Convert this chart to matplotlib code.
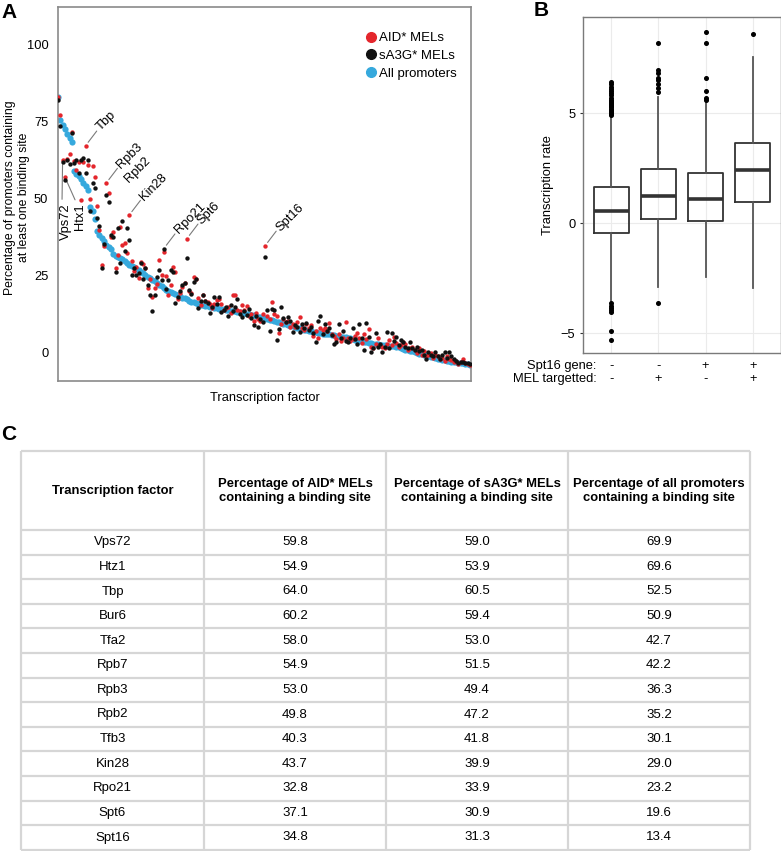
import matplotlib.pyplot as plt
from matplotlib.lines import Line2D
from matplotlib.transforms import blended_transform_factory

plt.rcParams['font.family'] = ['Liberation Sans', 'DejaVu Sans']

# ---- panel A: share of promoters with a binding site, per TF (sorted)
all_promoters = [
    83.0, 75.5, 74.0, 72.8, 71.0, 69.8, 68.5, 59.0, 58.0, 57.3,
    56.4, 55.3, 54.2, 53.0, 47.5, 46.0, 43.5, 39.5, 38.3, 37.2,
    36.2, 35.2, 34.5, 33.7, 32.0, 31.6, 31.2, 30.8, 30.4, 29.8,
    29.2, 28.6, 28.2, 27.8, 27.3, 26.8, 26.3, 25.8, 25.2, 24.7,
    24.2, 23.8, 23.3, 22.7, 22.1, 21.6, 21.2, 20.6, 20.2, 19.8,
    19.4, 19.0, 18.7, 18.4, 18.0, 17.7, 17.4, 17.0, 16.7, 16.4,
    16.2, 16.0, 15.7, 15.5, 15.3, 15.1, 15.0, 14.8, 14.7, 14.6,
    14.4, 14.3, 14.2, 14.0, 13.9, 13.7, 13.6, 13.5, 13.3, 13.2,
    13.0, 12.9, 12.7, 12.5, 12.4, 12.2, 12.0, 11.8, 11.6, 11.4,
    11.2, 11.0, 10.8, 10.6, 10.4, 10.2, 9.9, 9.7, 9.5, 9.3,
    9.1, 8.9, 8.6, 8.4, 8.2, 8.0, 7.8, 7.6, 7.4, 7.2,
    7.1, 6.9, 6.8, 6.6, 6.5, 6.3, 6.2, 6.1, 6.0, 5.8,
    5.7, 5.6, 5.4, 5.3, 5.2, 5.1, 4.9, 4.7, 4.5, 4.3,
    4.1, 4.0, 3.8, 3.6, 3.5, 3.3, 3.2, 3.0, 2.9, 2.8,
    2.7, 2.6, 2.5, 2.4, 2.3, 2.2, 2.1, 2.0, 1.9, 1.6,
    1.3, 1.1, 0.9, 0.7, 0.5, 0.3, 0.0, -0.2, -0.4, -0.6,
    -0.8, -1.0, -1.2, -1.4, -1.6, -1.8, -2.0, -2.2, -2.3, -2.5,
    -2.6, -2.8, -2.9, -3.0, -3.1, -3.2, -3.4, -3.5, -3.6, -3.8,
]
aid_mels = [
    83.0, 77.3, 62.5, 57.1, 63.0, 64.5, 71.8, 62.3, 59.4, 62.0,
    49.7, 62.0, 67.3, 61.0, 50.0, 60.7, 57.1, 47.7, 39.9, 28.6,
    34.7, 55.2, 52.0, 37.5, 39.3, 27.6, 31.8, 40.9, 35.1, 35.7,
    32.5, 44.8, 30.0, 26.5, 28.0, 24.4, 29.5, 29.0, 27.5, 21.0,
    24.0, 18.2, 21.0, 22.5, 30.2, 25.3, 32.8, 25.0, 18.8, 22.0,
    28.0, 26.3, 17.5, 19.5, 21.4, 22.7, 37.1, 20.0, 19.5, 24.7,
    24.0, 18.0, 15.5, 18.8, 17.0, 16.5, 15.8, 14.5, 16.0, 17.2,
    17.5, 16.0, 13.8, 14.6, 15.0, 13.0, 18.8, 18.8, 14.0, 13.5,
    15.6, 14.0, 15.3, 12.0, 12.5, 10.4, 13.0, 11.0, 10.5, 12.5,
    34.8, 12.0, 11.0, 16.6, 12.5, 12.0, 6.5, 9.5, 11.0, 10.0,
    10.5, 8.5, 9.4, 8.5, 10.0, 11.7, 8.0, 7.5, 9.4, 8.0,
    9.0, 5.5, 7.0, 4.9, 8.0, 7.5, 8.1, 7.0, 9.7, 6.0,
    5.5, 4.5, 6.0, 3.9, 5.0, 10.1, 5.0, 4.0, 4.5, 5.5,
    6.5, 5.0, 3.2, 6.0, 4.5, 7.8, 2.0, 1.6, 3.0, 4.9,
    2.6, 2.0, 1.5, 3.0, 4.2, 2.5, 5.2, 3.2, 2.0, 2.5,
    3.6, 3.0, 1.0, 1.5, 2.0, 1.0, 0.0, 1.5, -0.5, 0.5,
    -1.0, -0.5, 0.0, -1.5, -0.5, -1.0, -2.0, -1.5, -2.5, -1.0,
    -2.0, -2.2, -3.0, -2.5, -3.5, -3.0, -1.9, -3.2, -3.5, -3.8,
]
sa3g_mels = [
    82.1, 73.7, 62.0, 56.2, 62.5, 61.5, 71.4, 61.8, 62.5, 58.4,
    62.5, 63.3, 58.4, 62.5, 46.1, 55.2, 53.6, 43.8, 41.2, 27.6,
    35.4, 51.3, 49.0, 38.3, 37.7, 26.3, 40.6, 29.2, 42.9, 33.1,
    40.6, 36.7, 25.3, 27.5, 25.3, 26.0, 29.2, 24.0, 27.5, 22.0,
    18.8, 13.6, 18.8, 24.5, 27.0, 23.7, 33.9, 20.8, 23.7, 27.0,
    26.3, 16.2, 18.2, 20.1, 22.0, 22.7, 30.9, 20.5, 19.0, 23.0,
    24.0, 14.6, 17.0, 18.8, 16.9, 16.2, 13.0, 14.8, 18.2, 16.0,
    18.2, 13.3, 14.0, 15.0, 12.0, 15.6, 13.5, 15.0, 17.5, 12.5,
    11.7, 13.5, 12.3, 14.3, 11.5, 9.0, 12.0, 8.4, 11.0, 10.0,
    31.3, 14.0, 7.1, 14.3, 14.0, 4.2, 7.8, 14.9, 11.4, 10.0,
    11.7, 10.5, 6.8, 9.0, 8.5, 6.8, 9.5, 8.0, 9.7, 7.5,
    8.5, 6.5, 3.6, 10.4, 12.0, 6.0, 9.4, 7.0, 8.0, 5.8,
    2.9, 3.5, 9.4, 5.0, 7.1, 4.0, 3.6, 5.0, 8.1, 4.5,
    3.0, 9.4, 5.0, 1.0, 9.7, 5.2, 0.3, 1.5, 6.5, 1.9,
    3.0, 0.3, 2.0, 6.8, 1.6, 6.5, 4.0, 5.2, 2.5, 4.2,
    3.5, 2.0, 1.5, 3.6, 1.6, 1.0, 1.9, 0.5, 1.0, -0.6,
    -1.9, 0.3, -0.5, -1.0, 0.3, -1.0, -1.9, -0.8, 0.3, -1.5,
    0.3, -1.0, -1.9, -2.5, -3.2, -2.8, -3.0, -3.3, -3.2, -3.6,
]

# labelled TFs: name, index on x, which series the label points to
label_names = ['Tbp', 'Rpb3', 'Kin28', 'Rpo21', 'Spt6', 'Spt16']
label_index = [12, 21, 31, 46, 56, 90]
label_series = ['aid', 'aid', 'aid', 'sa3g', 'aid', 'aid']
vert_names = ['Vps72', 'Htx1']
vert_index = [2, 3]

# ---- panel B: transcription rate boxplots
spt16_gene = ['-', '-', '+', '+']
mel_targetted = ['-', '+', '-', '+']
box_q1 = [-0.44, 0.17, 0.11, 0.98]
box_med = [0.53, 1.24, 1.09, 2.41]
box_q3 = [1.62, 2.44, 2.27, 3.62]
whisk_lo = [-3.58, -2.92, -2.44, -2.97]
whisk_hi = [4.8, 5.74, 5.44, 7.53]
outliers = [
    [4.9, 4.95, 5.0, 5.05, 5.1, 5.15, 5.2, 5.25, 5.3, 5.35, 5.4, 5.45, 5.5,
     5.55, 5.6, 5.7, 5.8, 5.9, 6.0, 6.1, 6.2, 6.3, 6.4,
     -3.65, -3.75, -3.85, -3.95, -4.05, -4.9, -5.3],
    [5.97, 6.13, 6.3, 6.5, 6.6, 6.8, 6.95, 8.16, -3.65],
    [5.6, 5.7, 6.0, 6.6, 8.2, 8.67],
    [8.58],
]

# ---- panel C: table
col_headers = ['Transcription factor',
               'Percentage of AID* MELs\ncontaining a binding site',
               'Percentage of sA3G* MELs\ncontaining a binding site',
               'Percentage of all promoters\ncontaining a binding site']
tf_names = ['Vps72', 'Htz1', 'Tbp', 'Bur6', 'Tfa2', 'Rpb7', 'Rpb3', 'Rpb2',
            'Tfb3', 'Kin28', 'Rpo21', 'Spt6', 'Spt16']
pct_aid = [59.8, 54.9, 64.0, 60.2, 58.0, 54.9, 53.0, 49.8, 40.3, 43.7, 32.8, 37.1, 34.8]
pct_sa3g = [59.0, 53.9, 60.5, 59.4, 53.0, 51.5, 49.4, 47.2, 41.8, 39.9, 33.9, 30.9, 31.3]
pct_all = [69.9, 69.6, 52.5, 50.9, 42.7, 42.2, 36.3, 35.2, 30.1, 29.0, 23.2, 19.6, 13.4]

RED = '#e4262c'
BLACK = '#111111'
BLUE = '#36a9dd'
W, H = 781, 851
FS = 9.3


def px_box(left, top, right, bottom):
    return [left / W, 1 - bottom / H, (right - left) / W, (bottom - top) / H]


fig = plt.figure(figsize=(W / 100, H / 100), dpi=100)

# ================= A
axA = fig.add_axes(px_box(58, 7, 471, 381))
xs = list(range(len(all_promoters)))
axA.scatter(xs, all_promoters, s=20, color=BLUE, lw=0, zorder=2)
axA.scatter(xs, aid_mels, s=10, color=RED, lw=0, zorder=3)
axA.scatter(xs, sa3g_mels, s=10, color=BLACK, lw=0, zorder=4)
axA.set_xlim(0, len(xs) - 0.5)
axA.set_ylim(-9.1, 112.3)
axA.set_xticks([])
axA.set_yticks([0, 25, 50, 75, 100])
axA.tick_params(length=0, pad=7, labelsize=FS)
for sp in axA.spines.values():
    sp.set_color('#8a8a8a')
    sp.set_linewidth(1.2)
axA.set_ylabel('Percentage of promoters containing\nat least one binding site',
               fontsize=8.8, linespacing=1.25)
axA.yaxis.set_label_coords(-0.068, 0.49)
axA.set_xlabel('Transcription factor', fontsize=FS, labelpad=8)

handles = [Line2D([], [], marker='o', ls='', color=c, markersize=7)
           for c in (RED, BLACK, BLUE)]
axA.legend(handles, ['AID* MELs', 'sA3G* MELs', 'All promoters'],
           loc='upper left', bbox_to_anchor=(0.748, 0.933), frameon=False,
           fontsize=9.5, handlelength=0.6, handletextpad=0.3,
           labelspacing=0.42, borderpad=0, borderaxespad=0)

series = {'aid': aid_mels, 'sa3g': sa3g_mels}
line_kw = dict(arrowstyle='-', color='#7a7a7a', lw=0.8, shrinkA=0, shrinkB=3)
for name, i, s in zip(label_names, label_index, label_series):
    y = series[s][i]
    axA.annotate('', xy=(i, y), xytext=(8, 10.5), textcoords='offset points',
                 arrowprops=line_kw)
    axA.annotate(name, xy=(i, y), xytext=(9.2, 11.8), textcoords='offset points',
                 rotation=45, rotation_mode='anchor', ha='left', va='center',
                 fontsize=FS)
# Rpb2 sits under Rpb3, no leader of its own
axA.annotate('Rpb2', xy=(label_index[1], aid_mels[label_index[1]]),
             xytext=(14.5, 1.5), textcoords='offset points', rotation=45,
             rotation_mode='anchor', ha='left', va='center', fontsize=FS)
# Vps72 / Htx1 run vertically
vert_line = [(-0.4, -28.0), (7.3, -16.4)]
vert_text = [(2.4, -30.6), (10.9, -18.6)]
for name, i, lend, toff in zip(vert_names, vert_index, vert_line, vert_text):
    y = aid_mels[i]
    axA.annotate('', xy=(i, y), xytext=lend, textcoords='offset points',
                 arrowprops=line_kw)
    axA.annotate(name, xy=(i, y), xytext=toff, textcoords='offset points',
                 rotation=90, rotation_mode='anchor', ha='right', va='center',
                 fontsize=FS)

# ================= B
axB = fig.add_axes(px_box(583, 17, 781, 353))
stats = []
for k in range(4):
    stats.append(dict(q1=box_q1[k], med=box_med[k], q3=box_q3[k],
                      whislo=whisk_lo[k], whishi=whisk_hi[k], fliers=outliers[k]))
dark = '#333333'
axB.bxp(stats, positions=[1, 2, 3, 4], widths=0.74, showcaps=False,
        boxprops=dict(color=dark, lw=1.3),
        medianprops=dict(color=dark, lw=2.6, solid_capstyle='butt'),
        whiskerprops=dict(color='#555555', lw=1.3),
        flierprops=dict(marker='o', markerfacecolor='black',
                        markeredgecolor='black', markersize=2.6))
axB.set_xlim(0.4, 4.6)
axB.set_ylim(-5.9, 9.36)
axB.set_yticks([-5, 0, 5])
axB.set_xticks([1, 2, 3, 4])
axB.set_xticklabels([])
axB.grid(True, color='#ebebeb', lw=0.8)
axB.set_axisbelow(True)
axB.tick_params(axis='y', length=2.5, color=dark, labelsize=FS, pad=3)
axB.tick_params(axis='x', length=0)
for sp in axB.spines.values():
    sp.set_color('#7a7a7a')
    sp.set_linewidth(1.0)
axB.set_ylabel('Transcription rate', fontsize=FS, labelpad=5)

tr = blended_transform_factory(axB.transData, axB.transAxes)
axB.text(0.69, -0.039, 'Spt16 gene:', transform=tr, ha='right', va='center', fontsize=FS)
axB.text(0.69, -0.077, 'MEL targetted:', transform=tr, ha='right', va='center', fontsize=FS)
for k in range(4):
    axB.text(k + 1, -0.039, spt16_gene[k], transform=tr, ha='center', va='center', fontsize=FS)
    axB.text(k + 1, -0.077, mel_targetted[k], transform=tr, ha='center', va='center', fontsize=FS)

# ================= C
axT = fig.add_axes([0, 0, 1, 1], zorder=-1)
axT.set_xlim(0, W)
axT.set_ylim(H, 0)
axT.axis('off')
col_edges = [21, 204, 386, 568, 750]
table_top, header_bottom, row_h = 451, 530, 24.6
row_edges = [table_top, header_bottom] + [header_bottom + row_h * (r + 1) for r in range(len(tf_names))]
grid_c = '#d6d6d6'
for y in row_edges:
    axT.plot([col_edges[0], col_edges[-1]], [y, y], color=grid_c, lw=1.6, solid_capstyle='butt')
for x in col_edges:
    axT.plot([x, x], [table_top, row_edges[-1]], color=grid_c, lw=1.6, solid_capstyle='butt')
centers = [(col_edges[c] + col_edges[c + 1]) / 2 for c in range(4)]
for c, txt in enumerate(col_headers):
    axT.text(centers[c], (table_top + header_bottom) / 2 + 0.5, txt, ha='center', va='center',
             fontsize=9.4, fontweight='bold', linespacing=1.3)
for r in range(len(tf_names)):
    yc = header_bottom + row_h * (r + 0.5)
    vals = [tf_names[r], '%.1f' % pct_aid[r], '%.1f' % pct_sa3g[r], '%.1f' % pct_all[r]]
    for c, v in enumerate(vals):
        axT.text(centers[c], yc, v, ha='center', va='center', fontsize=9.5)

# panel letters
fig.text(0.002, 1 - 13 / H, 'A', fontsize=15, fontweight='bold', va='center')
fig.text(534 / W, 1 - 10 / H, 'B', fontsize=15, fontweight='bold', va='center')
fig.text(0.002, 1 - 434 / H, 'C', fontsize=15, fontweight='bold', va='center')

fig.savefig('out.png', dpi=100)
